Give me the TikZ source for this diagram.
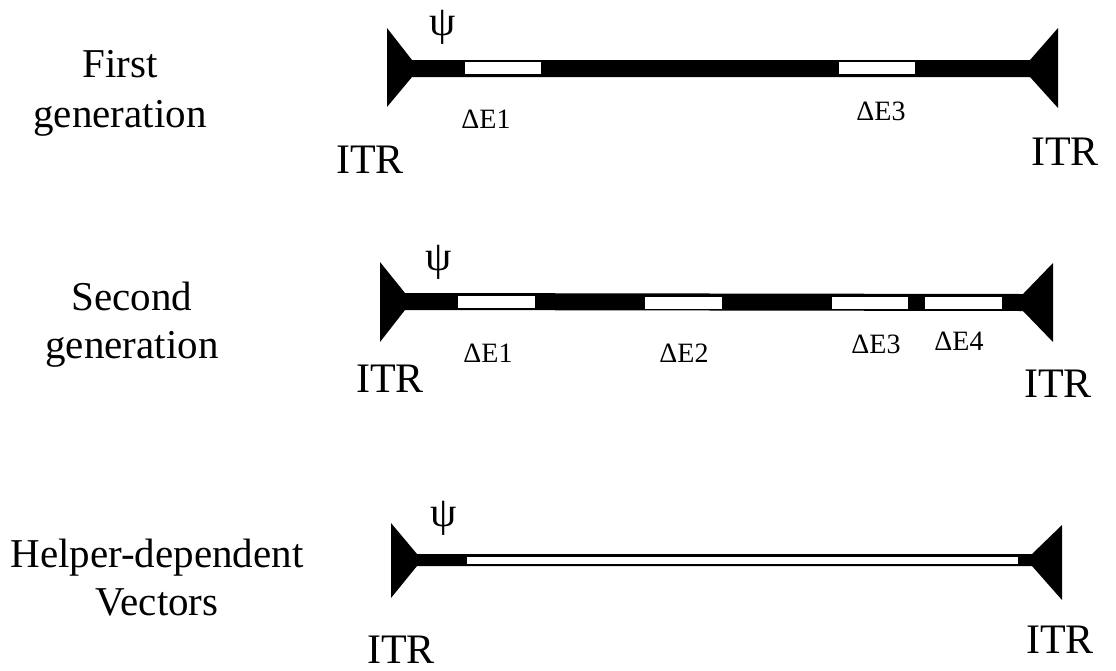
\documentclass[tikz,border=0pt]{standalone}
\usepackage{fontspec}
\setmainfont{Liberation Serif}
\begin{document}
\begin{tikzpicture}[x=1pt,y=-1pt,
  big/.style={font=\fontsize{42}{48}\selectfont, anchor=base, inner sep=0pt},
  side/.style={font=\fontsize{41}{50}\selectfont, align=center, inner sep=0pt, anchor=base},
  del/.style={font=\fontsize{28}{32}\selectfont, anchor=base, inner sep=0pt},
  psi/.style={font=\fontsize{42}{46}\selectfont, inner sep=0pt},
  gap/.style={fill=white}]
\useasboundingbox (0,0) rectangle (1116,670);
% ---------- Row 1 ----------
\fill (387,28) -- (412,60) -- (1030,60) -- (1058,28) -- (1058,108) -- (1030,77) -- (412,77) -- (387,107) -- cycle;
\fill[gap] (465,62) rectangle (541,74);
\fill[gap] (839,62) rectangle (915,74);
\node[psi] (p1) at (443,27) {ψ};
\node[del] (d11) at (486,128) {ΔE1};
\node[del] (d13) at (881,120) {ΔE3};
\node[big] (i1l) at (370,173) {ITR};
\node[big] (i1r) at (1065,165) {ITR};
\node[side] (l1a) at (120,77) {First};
\node[side] (l1b) at (120,127) {generation};
% ---------- Row 2 ----------
\fill (380,262) -- (405,293) -- (1023,294) -- (1053,263) -- (1053,342) -- (1023,311) -- (405,310) -- (380,342) -- cycle;
\fill[gap] (458,296) rectangle (535,308);
\fill[gap] (645,297) rectangle (722,309);
\fill[gap] (832,297) rectangle (908,309);
\fill[gap] (925,297) rectangle (1002,309);
\node[psi] (p2) at (439,262) {ψ};
\node[del] (d21) at (488,362) {ΔE1};
\node[del] (d22) at (684,362) {ΔE2};
\node[del] (d23) at (876,353) {ΔE3};
\node[del] (d24) at (959,350) {ΔE4};
\node[big] (i2l) at (390,392) {ITR};
\node[big] (i2r) at (1058,397) {ITR};
\node[side] (l2a) at (132,310) {Second};
\node[side] (l2b) at (132,358) {generation};
% ---------- Row 3 ----------
\fill (391,523) -- (417,554) -- (1032,554) -- (1062,525) -- (1062,600) -- (1032,566) -- (417,566) -- (391,598) -- cycle;
\fill[gap] (467,557) rectangle (1018,564);
\node[psi] (p3) at (444,518) {ψ};
\node[big] (i3l) at (401,663) {ITR};
\node[big] (i3r) at (1060,653) {ITR};
\node[side] (l3a) at (157,567) {Helper-dependent};
\node[side] (l3b) at (157,615) {Vectors};
\end{tikzpicture}
\end{document}
